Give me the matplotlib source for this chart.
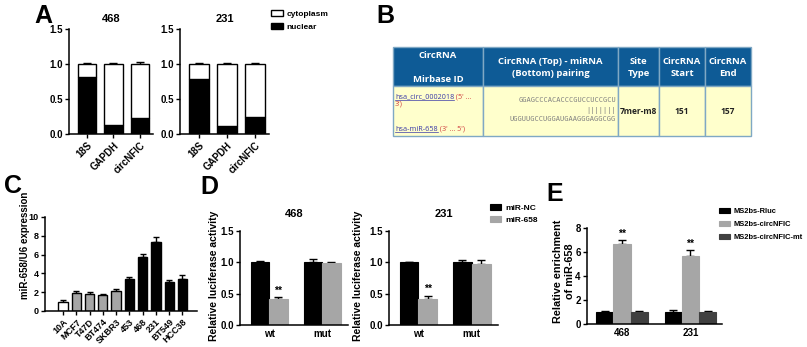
import matplotlib
matplotlib.use('Agg')
import matplotlib.pyplot as plt
from matplotlib.patches import Rectangle, Patch
import numpy as np

W, H = 807, 347
plt.rcParams['font.family'] = ['Liberation Sans', 'DejaVu Sans']
plt.rcParams['font.weight'] = 'bold'
plt.rcParams['axes.labelweight'] = 'bold'
plt.rcParams['axes.titleweight'] = 'bold'

# ---------------- data ----------------
A_cats = ['18S', 'GAPDH', 'circNFIC']
A468_nuclear = [0.82, 0.13, 0.23]
A468_nuclear_err = [0.03, 0.01, 0.03]
A468_cyto = [0.18, 0.87, 0.77]
A468_total_err = [0.02, 0.01, 0.03]
A231_nuclear = [0.78, 0.11, 0.24]
A231_nuclear_err = [0.02, 0.02, 0.02]
A231_cyto = [0.22, 0.89, 0.76]
A231_total_err = [0.01, 0.01, 0.02]

C_cats = ['10A', 'MCF7', 'T47D', 'BT474', 'SKBR3', '453', '468', '231', 'BT549', 'HCC38']
C_vals = [1.0, 1.9, 1.85, 1.7, 2.1, 3.4, 5.75, 7.3, 3.1, 3.45]
C_err = [0.12, 0.2, 0.22, 0.15, 0.2, 0.25, 0.3, 0.55, 0.25, 0.35]
C_colors = ['white', '#a6a6a6', '#a6a6a6', '#a6a6a6', '#a6a6a6',
            'black', 'black', 'black', 'black', 'black']

D_groups = ['wt', 'mut']
D468_NC = [1.0, 1.0]
D468_NC_err = [0.02, 0.05]
D468_658 = [0.41, 0.99]
D468_658_err = [0.03, 0.02]
D231_NC = [1.0, 1.0]
D231_NC_err = [0.01, 0.04]
D231_658 = [0.42, 0.98]
D231_658_err = [0.05, 0.05]

E_groups = ['468', '231']
E_series = ['MS2bs-Rluc', 'MS2bs-circNFIC', 'MS2bs-circNFIC-mt']
E_vals = [[1.0, 1.0], [6.65, 5.7], [1.0, 1.0]]
E_err = [[0.1, 0.15], [0.35, 0.45], [0.1, 0.1]]
E_colors = ['black', '#a6a6a6', '#404040']

B_header = [['CircRNA', 'Mirbase ID'], ['CircRNA (Top) - miRNA', '(Bottom) pairing'],
            ['Site', 'Type'], ['CircRNA', 'Start'], ['CircRNA', 'End']]
B_circ = 'hsa_circ_0002018'
B_mir = 'hsa-miR-658'
B_seq_top = 'GGAGCCCACACCCGUCCUCCGCU'
B_seq_pair = '|||||||'
B_seq_bot = 'UGGUUGCCUGGAUGAAGGGAGGCGG'
B_site = '7mer-m8'
B_start = '151'
B_end = '157'

# ---------------- figure ----------------
fig = plt.figure(figsize=(W / 100, H / 100), dpi=100)
ov = fig.add_axes([0, 0, 1, 1])
ov.set_xlim(0, W)
ov.set_ylim(H, 0)
ov.set_axis_off()


def px_axes(x0, x1, ytop, ybot):
    return fig.add_axes([x0 / W, 1 - ybot / H, (x1 - x0) / W, (ybot - ytop) / H])


def style(ax, fs=7):
    for s in ['top', 'right']:
        ax.spines[s].set_visible(False)
    for s in ['left', 'bottom']:
        ax.spines[s].set_linewidth(1.1)
    ax.tick_params(width=1.0, length=3, labelsize=fs, pad=1.5)
    for lbl in ax.get_xticklabels() + ax.get_yticklabels():
        lbl.set_fontweight('bold')


def ylabel_px(ax, text, xr, yc, fs):
    ax.set_ylabel(text, fontsize=fs, fontweight='bold')
    ax.yaxis.set_label_coords(xr / W, 1 - yc / H, transform=fig.transFigure)


def uperr(ax, x, y, e, cap=3):
    ax.errorbar(x, y, yerr=[np.zeros(len(e)), e], fmt='none', ecolor='black',
                elinewidth=1, capsize=cap, capthick=1, zorder=1)


# ---------- Panel A ----------
for (x0, x1, title, nuc, nuc_err, cyto, tot_err) in [
        (69, 153, '468', A468_nuclear, A468_nuclear_err, A468_cyto, A468_total_err),
        (180, 269, '231', A231_nuclear, A231_nuclear_err, A231_cyto, A231_total_err)]:
    ax = px_axes(x0, x1, 29, 134)
    x = np.arange(len(A_cats))
    uperr(ax, x, np.array(nuc) + np.array(cyto), tot_err)
    uperr(ax, x, nuc, nuc_err)
    bn = ax.bar(x, nuc, 0.7, color='black', edgecolor='black', lw=1, zorder=2)
    bc = ax.bar(x, cyto, 0.7, bottom=nuc, color='white', edgecolor='black', lw=1, zorder=2)
    ax.set_xlim(-0.68, 2.5)
    ax.set_ylim(0, 1.5)
    ax.set_yticks([0, 0.5, 1.0, 1.5])
    ax.set_yticklabels(['0.0', '0.5', '1.0', '1.5'])
    ax.set_xticks(x)
    ax.set_xticklabels(A_cats, rotation=45, ha='right', rotation_mode='anchor')
    ax.set_title(title, fontsize=8, fontweight='bold', pad=5)
    style(ax)
fig.legend([bc, bn], ['cytoplasm', 'nuclear'], loc='upper left',
           bbox_to_anchor=(271 / W, 1 - 10 / H), frameon=False,
           handlelength=1.4, handleheight=0.7, handletextpad=0.5, labelspacing=0.6,
           borderpad=0, borderaxespad=0, prop={'weight': 'bold', 'size': 6})

# ---------- Panel B (table) ----------
col_x = [393, 483, 618, 659, 705, 751]
hy0, hy1, by1 = 47, 86, 136
hdr_col = '#0e5b96'
body_col = '#ffffcc'
edge_col = '#7fa8c4'
hdr_font = ['Open Sans', 'DejaVu Sans']
for i in range(5):
    ov.add_patch(Rectangle((col_x[i], hy0), col_x[i + 1] - col_x[i], hy1 - hy0,
                           facecolor=hdr_col, edgecolor=edge_col, lw=1))
    ov.add_patch(Rectangle((col_x[i], hy1), col_x[i + 1] - col_x[i], by1 - hy1,
                           facecolor=body_col, edgecolor=edge_col, lw=1))
    xc = (col_x[i] + col_x[i + 1]) / 2
    ys = (55, 79) if i == 0 else (61, 73)
    for line, yy in zip(B_header[i], ys):
        ov.text(xc, yy, line, color='white', fontsize=6.8, ha='center', va='center',
                family=hdr_font, fontweight='bold')

body_font = ['Open Sans', 'DejaVu Sans']
t1 = ov.text(395, 97, B_circ, color='#3a3aa8', fontsize=5.2, ha='left', va='center',
             family=body_font, fontweight='normal')
ov.annotate(" (5' ...", xy=(1, 0.5), xycoords=t1, color='#d04040', fontsize=5.2,
            ha='left', va='center', family=body_font, fontweight='normal')
ov.text(395, 104, "3')", color='#d04040', fontsize=5.2, ha='left', va='center',
        family=body_font, fontweight='normal')
t2 = ov.text(395, 129, B_mir, color='#3a3aa8', fontsize=5.2, ha='left', va='center',
             family=body_font, fontweight='normal')
ov.annotate(" (3' ... 5')", xy=(1, 0.5), xycoords=t2, color='#d04040', fontsize=5.2,
            ha='left', va='center', family=body_font, fontweight='normal')
for s, yy in [(B_seq_top, 100), (B_seq_pair, 110), (B_seq_bot, 119)]:
    ov.text(616, yy, s, color='#808080', fontsize=5.0, ha='right', va='center',
            family='DejaVu Sans Mono', fontweight='normal')
for i, s in zip([2, 3, 4], [B_site, B_start, B_end]):
    ov.text((col_x[i] + col_x[i + 1]) / 2, 111, s, color='#222222', fontsize=6,
            ha='center', va='center', family=body_font, fontweight='bold')

# ---------- Panel C ----------
ax = px_axes(45, 197, 217, 311)
x = np.arange(len(C_cats))
uperr(ax, x, C_vals, C_err, cap=2.5)
ax.bar(x, C_vals, 0.7, color=C_colors, edgecolor='black', lw=1, zorder=2)
ax.set_xlim(-1.36, 10.1)
ax.set_ylim(0, 10)
ax.set_yticks([0, 2, 4, 6, 8, 10])
ax.set_xticks(x)
ax.set_xticklabels(C_cats, rotation=45, ha='right', rotation_mode='anchor')
ylabel_px(ax, 'miR-658/U6 expression', 30, 245, 7)
style(ax, fs=6.5)

# ---------- Panel D ----------
for (x0, x1, title, nc, nce, m, me, lx) in [
        (240, 348, '468', D468_NC, D468_NC_err, D468_658, D468_658_err, 219),
        (389, 498, '231', D231_NC, D231_NC_err, D231_658, D231_658_err, 363)]:
    ax = px_axes(x0, x1, 231, 325)
    g = np.arange(len(D_groups))
    uperr(ax, g - 0.175, nc, nce)
    uperr(ax, g + 0.175, m, me)
    b1 = ax.bar(g - 0.175, nc, 0.35, color='black', edgecolor='black', lw=0.8, zorder=2)
    b2 = ax.bar(g + 0.175, m, 0.35, color='#a6a6a6', edgecolor='#a6a6a6', lw=0.8, zorder=2)
    ax.text(g[0] + 0.175, m[0] + me[0] + 0.02, '**', ha='center', va='bottom',
            fontsize=7.5, fontweight='bold')
    ax.set_xlim(-0.55, 1.49)
    ax.set_ylim(0, 1.5)
    ax.set_yticks([0, 0.5, 1.0, 1.5])
    ax.set_yticklabels(['0.0', '0.5', '1.0', '1.5'])
    ax.set_xticks(g)
    ax.set_xticklabels(D_groups)
    ax.set_title(title, fontsize=8, fontweight='bold', pad=10)
    ylabel_px(ax, 'Relative luciferase activity', lx, 276, 7.5)
    style(ax)
    ax.tick_params(axis='x', length=0, pad=3)
fig.legend([b1, b2], ['miR-NC', 'miR-658'], loc='upper left',
           bbox_to_anchor=(490 / W, 1 - 204 / H), frameon=False,
           handlelength=1.3, handleheight=0.7, handletextpad=0.5, labelspacing=0.5,
           borderpad=0, borderaxespad=0, prop={'weight': 'bold', 'size': 6})

# ---------- Panel E ----------
ax = px_axes(587, 722, 228, 324)
g = np.arange(len(E_groups))
offs = [-0.25, 0, 0.25]
handles = []
for k in range(3):
    uperr(ax, g + offs[k], E_vals[k], E_err[k])
    handles.append(ax.bar(g + offs[k], E_vals[k], 0.25, color=E_colors[k],
                          edgecolor=E_colors[k], lw=0.8, zorder=2))
for j in range(len(E_groups)):
    ax.text(g[j], E_vals[1][j] + E_err[1][j] + 0.1, '**', ha='center', va='bottom',
            fontsize=7.5, fontweight='bold')
ax.set_xlim(-0.51, 1.46)
ax.set_ylim(0, 8)
ax.set_yticks([0, 2, 4, 6, 8])
ax.set_xticks(g)
ax.set_xticklabels(E_groups)
ylabel_px(ax, 'Relative enrichment\nof miR-658', 575, 271, 7.8)
style(ax)
ax.tick_params(axis='x', length=0, pad=3)
fig.legend(handles, E_series, loc='upper left',
           bbox_to_anchor=(719 / W, 1 - 208 / H), frameon=False,
           handlelength=1.5, handleheight=0.7, handletextpad=0.4, labelspacing=0.75,
           borderpad=0, borderaxespad=0, prop={'weight': 'bold', 'size': 5.4})

# ---------- panel letters ----------
for lab, xx, yy in [('A', 43, 16), ('B', 385, 16), ('C', 13, 186), ('D', 209, 187), ('E', 555, 194)]:
    fig.text(xx / W, 1 - yy / H, lab, fontsize=18, fontweight='bold', ha='center', va='center')

# underline the links
fig.canvas.draw()
r = fig.canvas.get_renderer()
inv = ov.transData.inverted()
for t in [t1, t2]:
    bb = t.get_window_extent(r)
    (xa, ya), (xb, yb) = inv.transform([(bb.x0, bb.y0), (bb.x1, bb.y0)])
    ov.plot([xa, xb], [ya - 0.5, ya - 0.5], color='#3a3aa8', lw=0.5)

fig.savefig('out.png', dpi=100)
